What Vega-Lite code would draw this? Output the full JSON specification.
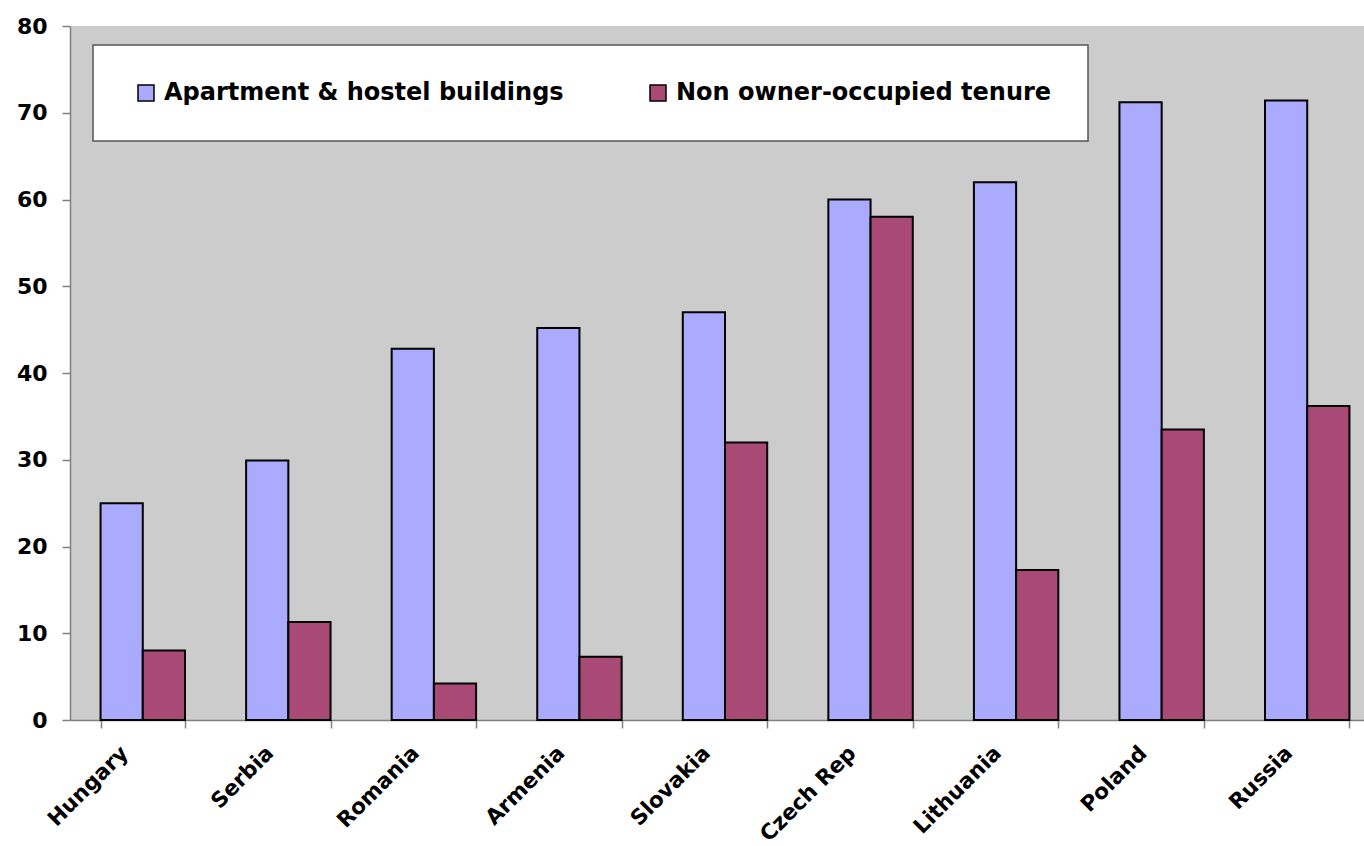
{
  "$schema": "https://vega.github.io/schema/vega-lite/v6.json",
  "autosize": "none",
  "width": 1294,
  "height": 694,
  "padding": {"left": 70, "top": 26, "right": 0, "bottom": 126},
  "background": "#FFFFFF",
  "config": {
    "font": "DejaVu Sans",
    "view": {"fill": "#CCCCCC", "stroke": null},
    "legend": {"strokeWidth": 1.5}
  },
  "data": {
    "values": [
      {"country": "Hungary", "series": "Apartment & hostel buildings", "value": 25},
      {"country": "Hungary", "series": "Non owner-occupied tenure", "value": 8},
      {"country": "Serbia", "series": "Apartment & hostel buildings", "value": 29.9},
      {"country": "Serbia", "series": "Non owner-occupied tenure", "value": 11.3},
      {"country": "Romania", "series": "Apartment & hostel buildings", "value": 42.8},
      {"country": "Romania", "series": "Non owner-occupied tenure", "value": 4.2},
      {"country": "Armenia", "series": "Apartment & hostel buildings", "value": 45.2},
      {"country": "Armenia", "series": "Non owner-occupied tenure", "value": 7.3},
      {"country": "Slovakia", "series": "Apartment & hostel buildings", "value": 47},
      {"country": "Slovakia", "series": "Non owner-occupied tenure", "value": 32},
      {"country": "Czech Rep", "series": "Apartment & hostel buildings", "value": 60},
      {"country": "Czech Rep", "series": "Non owner-occupied tenure", "value": 58},
      {"country": "Lithuania", "series": "Apartment & hostel buildings", "value": 62},
      {"country": "Lithuania", "series": "Non owner-occupied tenure", "value": 17.3},
      {"country": "Poland", "series": "Apartment & hostel buildings", "value": 71.2},
      {"country": "Poland", "series": "Non owner-occupied tenure", "value": 33.5},
      {"country": "Russia", "series": "Apartment & hostel buildings", "value": 71.4},
      {"country": "Russia", "series": "Non owner-occupied tenure", "value": 36.2}
    ]
  },
  "mark": {"type": "bar", "stroke": "#000000", "strokeWidth": 2},
  "encoding": {
    "x": {
      "field": "country",
      "type": "nominal",
      "sort": ["Hungary", "Serbia", "Romania", "Armenia", "Slovakia", "Czech Rep", "Lithuania", "Poland", "Russia"],
      "scale": {"paddingInner": 0.42, "paddingOuter": 0.21, "range": [0, 1310]},
      "axis": {
        "title": null,
        "labelAngle": -45,
        "labelAlign": "right",
        "labelBaseline": "top",
        "labelFontSize": 21.5,
        "labelFontWeight": "bold",
        "labelColor": "#000000",
        "labelPadding": 14,
        "labelOffset": -26,
        "tickBand": "extent",
        "tickSize": 8,
        "tickColor": "#808080",
        "domainColor": "#808080",
        "domainWidth": 1.5,
        "tickWidth": 1.5
      }
    },
    "xOffset": {
      "field": "series",
      "type": "nominal",
      "sort": ["Apartment & hostel buildings", "Non owner-occupied tenure"]
    },
    "y": {
      "field": "value",
      "type": "quantitative",
      "scale": {"domain": [0, 80], "nice": false},
      "axis": {
        "title": null,
        "values": [0, 10, 20, 30, 40, 50, 60, 70, 80],
        "grid": false,
        "labelFontSize": 22,
        "labelFontWeight": "bold",
        "labelColor": "#000000",
        "labelPadding": 15,
        "tickSize": 8,
        "tickColor": "#808080",
        "domainColor": "#808080",
        "domainWidth": 1.5,
        "tickWidth": 1.5
      }
    },
    "color": {
      "field": "series",
      "type": "nominal",
      "sort": ["Apartment & hostel buildings", "Non owner-occupied tenure"],
      "scale": {"range": ["#AAAAFF", "#A84A75"]},
      "legend": {
        "title": null,
        "orient": "none",
        "legendX": 23,
        "legendY": 19,
        "direction": "horizontal",
        "fillColor": "#FFFFFF",
        "strokeColor": "#555555",
        "padding": 36,
        "symbolType": "square",
        "symbolSize": 256,
        "symbolOffset": 5,
        "symbolStrokeColor": "#000000",
        "symbolStrokeWidth": 1.5,
        "symbolOpacity": 1,
        "labelFontSize": 24,
        "labelFontWeight": "bold",
        "labelColor": "#000000",
        "labelOffset": 6,
        "columnPadding": 77,
        "labelLimit": 600
      }
    }
  }
}
